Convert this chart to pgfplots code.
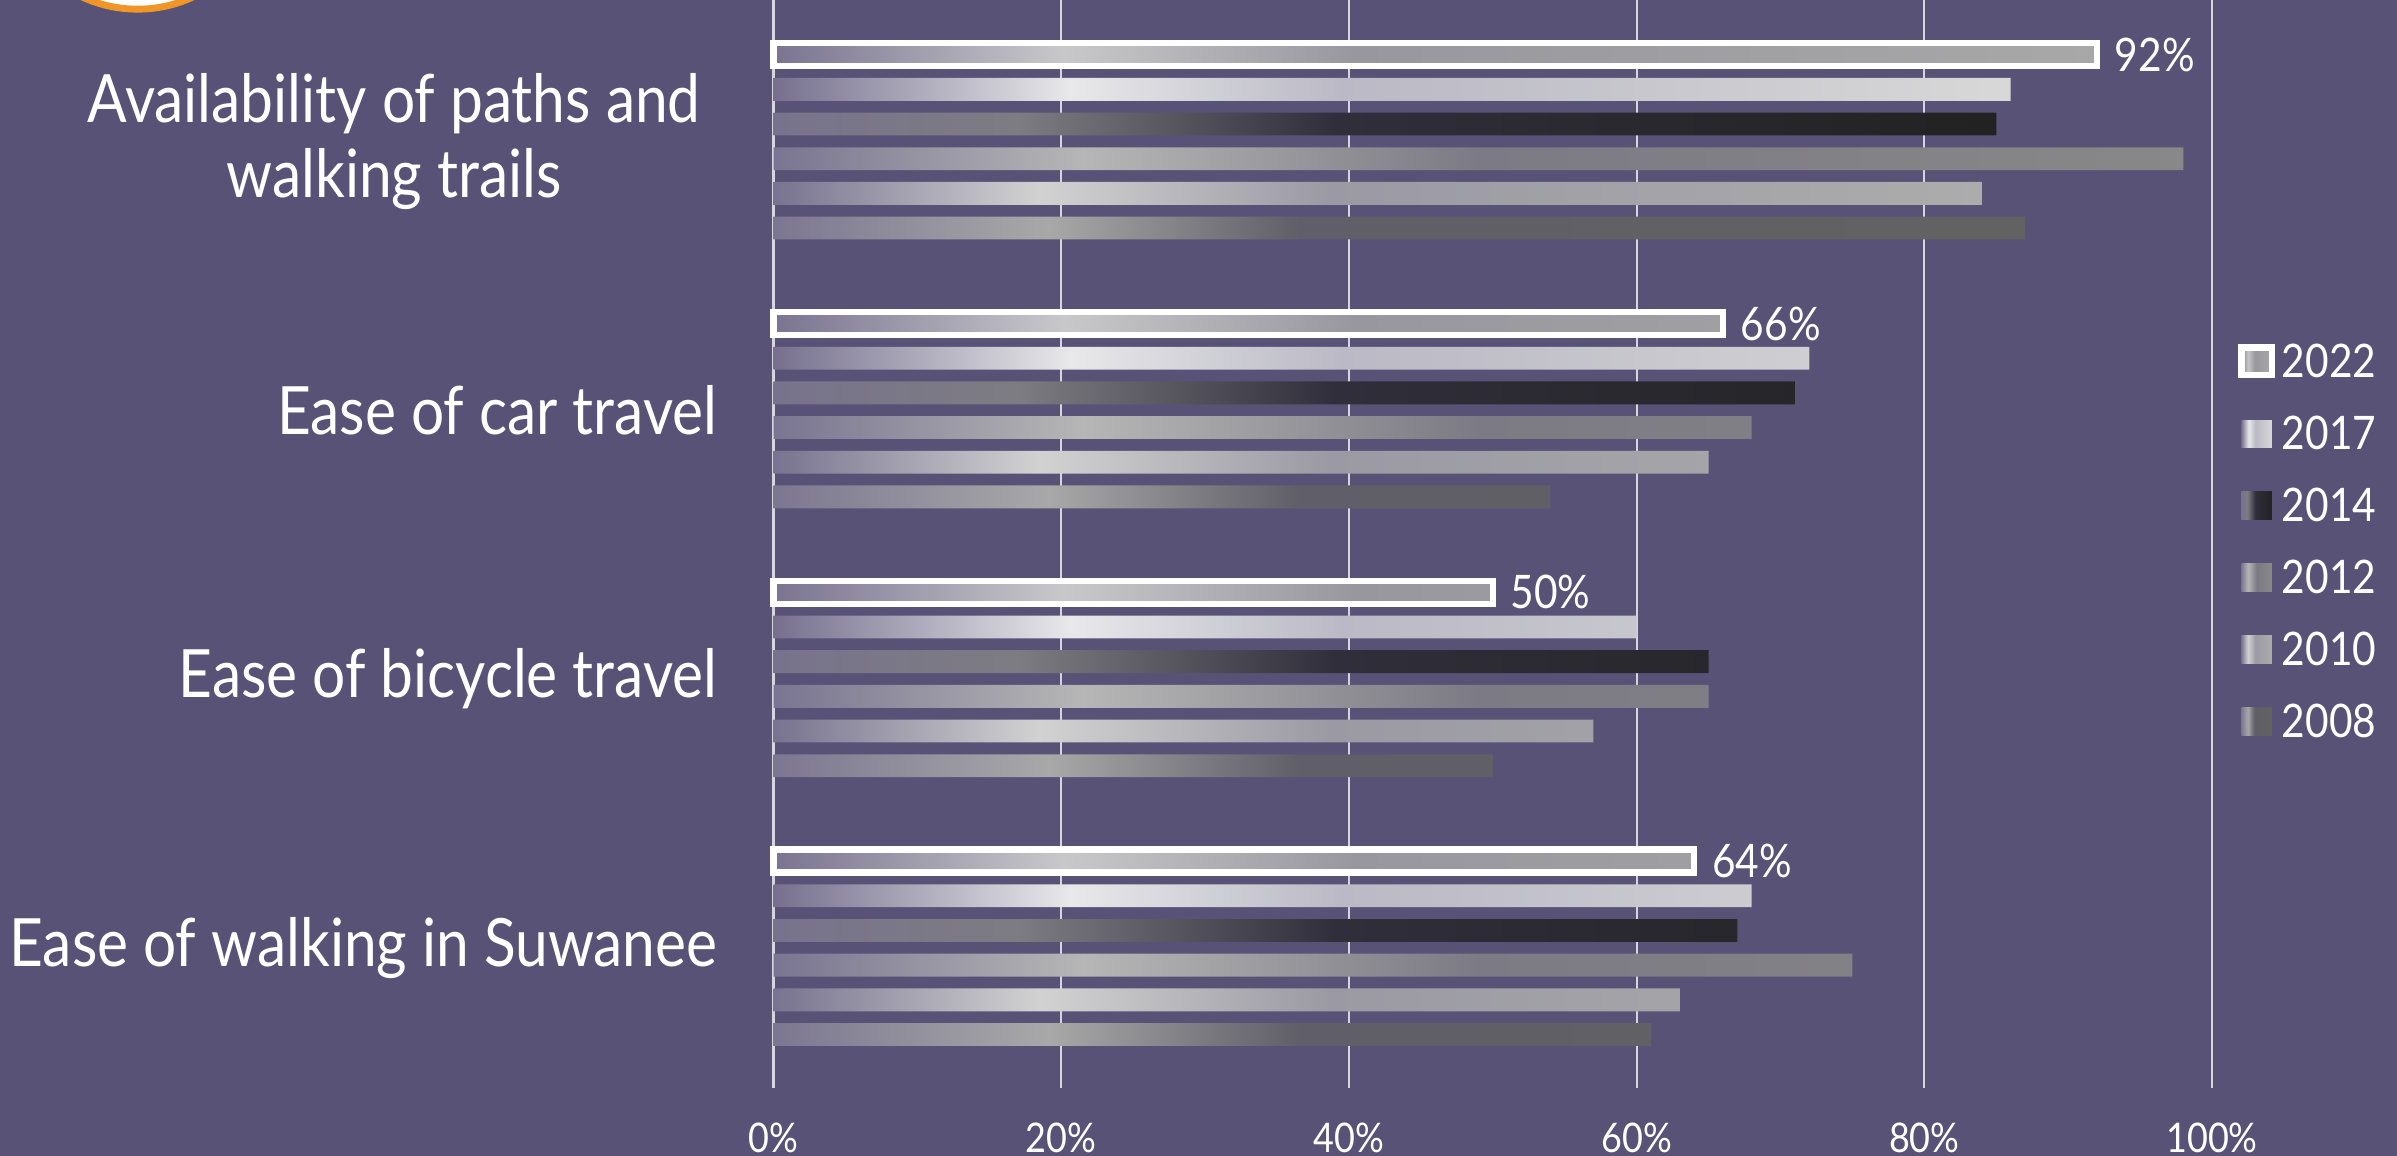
\documentclass[border=0pt]{standalone}
\usepackage{pgfplots}
\pgfplotsset{compat=1.18}
\usepackage{fontspec}
\setmainfont{Lato}[FakeStretch=0.88]
\definecolor{bg}{RGB}{89,82,119}
\definecolor{gridc}{RGB}{214,212,222}
\definecolor{logoor}{RGB}{240,150,40}
% 2022
\definecolor{c22a}{RGB}{122,116,145}\definecolor{c22b}{RGB}{200,200,202}\definecolor{c22c}{RGB}{152,151,158}\definecolor{c22d}{RGB}{168,168,168}
% 2017
\definecolor{c17a}{RGB}{118,112,142}\definecolor{c17b}{RGB}{232,232,234}\definecolor{c17c}{RGB}{186,185,197}\definecolor{c17d}{RGB}{216,216,216}
% 2014
\definecolor{c14a}{RGB}{120,115,140}\definecolor{c14b}{RGB}{125,124,130}\definecolor{c14c}{RGB}{48,46,58}\definecolor{c14d}{RGB}{34,34,34}
% 2012
\definecolor{c12a}{RGB}{122,117,145}\definecolor{c12b}{RGB}{182,182,182}\definecolor{c12c}{RGB}{124,122,132}\definecolor{c12d}{RGB}{136,136,136}
% 2010
\definecolor{c10a}{RGB}{120,115,143}\definecolor{c10b}{RGB}{210,210,210}\definecolor{c10c}{RGB}{155,154,164}\definecolor{c10d}{RGB}{172,172,172}
% 2008
\definecolor{c08a}{RGB}{124,119,145}\definecolor{c08b}{RGB}{168,168,168}\definecolor{c08c}{RGB}{96,94,104}\definecolor{c08d}{RGB}{98,98,98}
\pgfdeclarehorizontalshading{s22}{100bp}{color(0bp)=(c22a); color(25bp)=(c22a); color(36bp)=(c22b); color(47bp)=(c22c); color(75bp)=(c22d); color(100bp)=(c22d)}
\pgfdeclarehorizontalshading{s17}{100bp}{color(0bp)=(c17a); color(25bp)=(c17a); color(37bp)=(c17b); color(48bp)=(c17c); color(75bp)=(c17d); color(100bp)=(c17d)}
\pgfdeclarehorizontalshading{s14}{100bp}{color(0bp)=(c14a); color(25bp)=(c14a); color(35bp)=(c14b); color(48bp)=(c14c); color(75bp)=(c14d); color(100bp)=(c14d)}
\pgfdeclarehorizontalshading{s12}{100bp}{color(0bp)=(c12a); color(25bp)=(c12a); color(36bp)=(c12b); color(50bp)=(c12c); color(75bp)=(c12d); color(100bp)=(c12d)}
\pgfdeclarehorizontalshading{s10}{100bp}{color(0bp)=(c10a); color(25bp)=(c10a); color(36bp)=(c10b); color(48bp)=(c10c); color(75bp)=(c10d); color(100bp)=(c10d)}
\pgfdeclarehorizontalshading{s08}{100bp}{color(0bp)=(c08a); color(25bp)=(c08a); color(36bp)=(c08b); color(46bp)=(c08c); color(75bp)=(c08d); color(100bp)=(c08d)}
\pgfplotsset{
  leg/.style={legend image code/.code={\path[##1] (0cm,-0.10cm) rectangle (0.2cm,0.08cm);}},
}
\begin{document}
\begin{tikzpicture}
\fill[bg] (0,0) rectangle (15.68,7.56);
\path[use as bounding box] (0,0) rectangle (15.68,7.56);
\begin{scope}
\clip (0,0) rectangle (15.68,7.56);
\fill[white] (0.90,8.36) circle (0.87);
\draw[logoor, line width=0.045cm] (0.90,8.36) circle (0.86);
\end{scope}
\begin{axis}[
  at={(5.06cm,0.50cm)}, anchor=south west, scale only axis,
  width=9.41cm, height=7.06cm,
  xmin=0, xmax=100, ymin=-0.489, ymax=3.526,
  axis y line*=left, axis x line*=bottom,
  x axis line style={draw=none, -}, y axis line style={gridc, line width=0.5pt, -},
  xtick={0,20,40,60,80,100}, xticklabels={0\%,20\%,40\%,60\%,80\%,100\%},
  ytick={0,1,2,3},
  yticklabels={Ease of walking in Suwanee, Ease of bicycle travel, Ease of car travel, {Availability of paths and\hspace*{0.11cm}\\walking trails\hspace*{0.11cm}}},
  xmajorgrids, grid style={gridc, line width=0.4pt},
  xtick align=outside, major tick length=0.06cm,
  x tick style={gridc, line width=0.4pt},
  y tick style={draw=none},
  tick label style={text=white},
  xticklabel style={font=\fontsize{7.6pt}{9pt}\selectfont, anchor=north, inner sep=0pt, yshift=-0.22cm},
  yticklabel style={font=\fontsize{12.4pt}{13.9pt}\selectfont, align=center, anchor=east, inner sep=0pt, xshift=-0.36cm},
  legend style={at={(1.0181,0.5)}, anchor=west, draw=none, fill=none, inner sep=0pt, outer sep=0pt,
    font=\fontsize{8.6pt}{10pt}\selectfont, text=white, row sep=0.24cm, column sep=0.045cm,
    nodes={inner sep=0pt, text height=0.23cm, text depth=0pt}},
  legend cell align=left,
  clip=false,
]
\addplot[xbar, bar width=0.085, bar shift=0.3225, shading=s22, draw=white, line width=1.2pt, leg] coordinates {(64,0) (50,1) (66,2) (92,3)};
\addlegendentry{2022}
\addplot[xbar, bar width=0.085, bar shift=0.1935, shading=s17, draw=none, leg] coordinates {(68,0) (60,1) (72,2) (86,3)};
\addlegendentry{2017}
\addplot[xbar, bar width=0.085, bar shift=0.0645, shading=s14, draw=none, leg] coordinates {(67,0) (65,1) (71,2) (85,3)};
\addlegendentry{2014}
\addplot[xbar, bar width=0.085, bar shift=-0.0645, shading=s12, draw=none, leg] coordinates {(75,0) (65,1) (68,2) (98,3)};
\addlegendentry{2012}
\addplot[xbar, bar width=0.085, bar shift=-0.1935, shading=s10, draw=none, leg] coordinates {(63,0) (57,1) (65,2) (84,3)};
\addlegendentry{2010}
\addplot[xbar, bar width=0.085, bar shift=-0.3225, shading=s08, draw=none, leg] coordinates {(61,0) (50,1) (54,2) (87,3)};
\addlegendentry{2008}
\addplot[forget plot, draw=none, mark=none, point meta=x,
  /pgf/number format/assume math mode=true,
  nodes near coords={\pgfmathprintnumber{\pgfplotspointmeta}\%},
  every node near coord/.append style={anchor=west, inner sep=0pt, xshift=0.11cm, text=white, font=\fontsize{8.6pt}{10pt}\selectfont}]
  coordinates {(64,0.3225) (50,1.3225) (66,2.3225) (92,3.3225)};
\end{axis}
\end{tikzpicture}
\end{document}
